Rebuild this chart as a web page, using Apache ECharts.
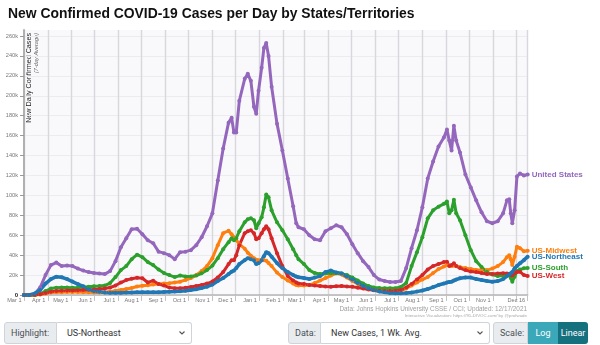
<!DOCTYPE html>
<html>
<head>
<meta charset="utf-8">
<script src="https://cdn.jsdelivr.net/npm/echarts@6/dist/echarts.min.js"></script>
<style>
  html, body { margin: 0; padding: 0; background: #fff; }
  #wrap { position: relative; width: 600px; height: 345px; overflow: hidden; }
  #chart { position: absolute; left: 0; top: 0; width: 600px; height: 345px; }
  .ctl { position: absolute; top: 322px; height: 22px; box-sizing: border-box; display: flex;
         font-family: Roboto, "Liberation Sans", Arial, sans-serif; font-size: 9px; color: #495057; }
  .lab { background: #e9ecef; border: 1px solid #ced4da; border-radius: 3px 0 0 3px;
         display: flex; align-items: center; padding: 0 6px; box-sizing: border-box; }
  .sel { background: #fff; border: 1px solid #ced4da; border-left: none; border-radius: 0 3px 3px 0;
         display: flex; align-items: center; justify-content: space-between; padding: 0 5px 0 10px; box-sizing: border-box; color: #333; }
  .btn { display: flex; align-items: center; justify-content: center; color: #fff; box-sizing: border-box; }
</style>
</head>
<body>
<div id="wrap">
  <div id="chart"></div>
  <div class="ctl" style="left:4px;">
    <div class="lab" style="width:53px;">Highlight:</div>
    <div class="sel" style="width:135px;"><span>US-Northeast</span>
      <svg width="8" height="8"><path d="M1.5 2.5 L4 5 L6.5 2.5" stroke="#555" fill="none" stroke-width="1.1"/></svg></div>
  </div>
  <div class="ctl" style="left:288px;">
    <div class="lab" style="width:33px;">Data:</div>
    <div class="sel" style="width:169px;"><span>New Cases, 1 Wk. Avg.</span>
      <svg width="8" height="8"><path d="M1.5 2.5 L4 5 L6.5 2.5" stroke="#555" fill="none" stroke-width="1.1"/></svg></div>
  </div>
  <div class="ctl" style="left:493px;">
    <div class="lab" style="width:35px;">Scale:</div>
    <div class="btn" style="width:30px;background:#3aa8b9;">Log</div>
    <div class="btn" style="width:30px;background:#16717f;border-radius:0 3px 3px 0;">Linear</div>
  </div>
</div>
<script>
// Sample dates (7-day average of new confirmed cases)
const dates = [
  '2020-03-01','2020-03-08','2020-03-15','2020-03-22','2020-03-29','2020-04-05','2020-04-12','2020-04-19','2020-04-26','2020-05-03',
  '2020-05-10','2020-05-17','2020-05-24','2020-05-31','2020-06-07','2020-06-14','2020-06-21','2020-06-28','2020-07-05','2020-07-12',
  '2020-07-19','2020-07-26','2020-08-02','2020-08-09','2020-08-16','2020-08-23','2020-08-30','2020-09-06','2020-09-13','2020-09-20',
  '2020-09-27','2020-10-04','2020-10-11','2020-10-18','2020-10-25','2020-11-01','2020-11-08','2020-11-15','2020-11-22','2020-11-26',
  '2020-11-29','2020-12-02','2020-12-06','2020-12-13','2020-12-17','2020-12-21','2020-12-25','2020-12-28','2020-12-31','2021-01-04',
  '2021-01-07','2021-01-10','2021-01-13','2021-01-17','2021-01-24','2021-01-31','2021-02-07','2021-02-14','2021-02-18','2021-02-21',
  '2021-02-28','2021-03-07','2021-03-14','2021-03-21','2021-03-28','2021-04-04','2021-04-11','2021-04-18','2021-04-25','2021-05-02',
  '2021-05-09','2021-05-16','2021-05-23','2021-05-30','2021-06-06','2021-06-13','2021-06-20','2021-06-27','2021-07-04','2021-07-11',
  '2021-07-18','2021-07-25','2021-08-01','2021-08-08','2021-08-15','2021-08-22','2021-08-29','2021-09-02','2021-09-05','2021-09-08',
  '2021-09-11','2021-09-14','2021-09-19','2021-09-26','2021-10-03','2021-10-10','2021-10-17','2021-10-24','2021-10-31','2021-11-07',
  '2021-11-14','2021-11-19','2021-11-22','2021-11-24','2021-11-26','2021-11-29','2021-12-02','2021-12-06','2021-12-11','2021-12-16'
];

const unitedStates = [
  0, 100, 1000, 7500, 20000, 30000, 32500, 29000, 29500, 29000,
  26500, 24500, 23000, 22000, 21500, 21000, 24000, 34000, 48000, 57000,
  66000, 66500, 61000, 55000, 52000, 43500, 42000, 40000, 36000, 43000,
  43500, 45000, 50000, 58000, 69000, 82000, 115000, 147000, 173000, 178000,
  163000, 163000, 195000, 217000, 222000, 215000, 189000, 182000, 205000, 228000,
  248000, 253000, 240000, 209000, 172000, 145000, 117000, 89000, 72000, 68000,
  66000, 60000, 56000, 55000, 64000, 67000, 70000, 68000, 61000, 51000,
  42000, 34000, 28000, 20000, 15500, 14000, 13000, 13000, 14000, 27000,
  47000, 65000, 88000, 117000, 134000, 149000, 158000, 166000, 155000, 145000,
  170000, 155000, 143000, 121000, 108000, 95000, 83000, 74000, 72000, 74000,
  82000, 95000, 96000, 82000, 72000, 85000, 119000, 122000, 120000, 121000
];

const usMidwest = [
  0, 0, 50, 500, 1500, 2500, 2800, 2800, 3000, 3000,
  3000, 2800, 2700, 2600, 2500, 2800, 3400, 4200, 5000, 6000,
  7000, 8500, 9200, 9800, 10500, 11000, 11500, 11700, 12500, 13400,
  15000, 17000, 20000, 24000, 29000, 37000, 50000, 62000, 64500, 61000,
  58000, 55000, 51000, 46500, 42500, 39500, 37000, 35500, 35000, 35000,
  35000, 34500, 32000, 29000, 22500, 18000, 14500, 11500, 10000, 9500,
  9500, 10000, 12000, 14500, 17000, 19500, 21800, 20500, 17500, 14000,
  11000, 8500, 7000, 5500, 4500, 4300, 4200, 4300, 4600, 6500,
  9500, 12500, 15500, 18000, 22000, 26000, 28500, 30000, 29500, 29000,
  29500, 29000, 28000, 27000, 26000, 25000, 25000, 25000, 26500, 29000,
  33000, 38000, 40000, 36000, 30000, 38500, 48500, 47000, 44000, 44500
];

const usSouth = [
  0, 0, 100, 1000, 4000, 6500, 7400, 7600, 7500, 7400,
  7400, 7800, 8400, 8800, 9000, 9500, 12000, 18000, 25000, 29000,
  36000, 40500, 38000, 33000, 30000, 25500, 22000, 20000, 18000, 19500,
  18500, 18500, 19500, 21800, 25000, 29500, 37000, 46000, 53000, 57000,
  55000, 57000, 64000, 73000, 76000, 77000, 75000, 67000, 72000, 78000,
  88000, 101000, 98000, 85000, 73000, 65000, 56000, 46000, 40000, 36000,
  31000, 25000, 22000, 21000, 21500, 21800, 21800, 21500, 20000, 17500,
  14500, 11500, 9000, 7500, 7000, 6700, 6700, 6800, 8000, 12000,
  29000, 43000, 58000, 77000, 85000, 88700, 91500, 93800, 82000, 85000,
  95500, 82000, 75000, 60000, 45000, 34000, 28000, 23000, 20500, 19000,
  19500, 20000, 20000, 17000, 13400, 18400, 24000, 25500, 26800, 27000
];

const usWest = [
  0, 0, 200, 800, 2000, 3200, 4000, 4300, 4400, 4600,
  4800, 5000, 5300, 5600, 6000, 6600, 7500, 9500, 12500, 15000,
  16300, 17400, 16800, 12600, 14400, 11000, 9600, 7500, 6700, 6700,
  7200, 8000, 9000, 10000, 11500, 13500, 17500, 23000, 31000, 35000,
  35000, 40000, 50000, 62000, 64000, 65000, 62000, 56000, 57000, 62000,
  66000, 69000, 66000, 57000, 42000, 29000, 19000, 14500, 12500, 11500,
  11000, 10000, 9500, 9000, 8500, 8400, 8800, 9000, 8500, 8200,
  7400, 6500, 5400, 4800, 4200, 4000, 4000, 4200, 5000, 7500,
  11000, 15500, 20000, 25500, 29000, 31000, 33000, 33500, 29000, 30000,
  31800, 29000, 27000, 25000, 23500, 23000, 22000, 21000, 21000, 21500,
  21800, 21500, 21000, 20000, 19500, 21800, 23000, 23400, 20000, 19000
];

const usNortheast = [
  0, 100, 1500, 5000, 11500, 16000, 18400, 17800, 16000, 13500,
  11000, 8700, 5600, 3800, 3200, 2500, 2300, 2300, 2300, 2400,
  2600, 2700, 2700, 2700, 2700, 2800, 3000, 3200, 3400, 3700,
  4200, 5000, 5700, 7000, 8400, 10500, 14000, 17000, 21000, 23400,
  24500, 27000, 31000, 35000, 37000, 36000, 35000, 31000, 32000, 35000,
  39000, 43000, 42000, 38500, 32000, 27000, 23000, 20000, 18500, 17800,
  17000, 16000, 17500, 19000, 23000, 24500, 22500, 21500, 18500, 15500,
  12000, 9000, 6800, 5000, 3600, 2700, 2000, 1700, 1700, 2000,
  2500, 3400, 4500, 6000, 8000, 10000, 11500, 12500, 13000, 13400,
  14500, 15500, 16800, 17500, 17500, 16000, 15000, 14000, 13400, 14000,
  16000, 19000, 20500, 21800, 23000, 26800, 29000, 31800, 35000, 38500
];

// Month-start ticks, the last one being the update date
const tickDates = [
  '2020-03-01','2020-04-01','2020-05-01','2020-06-01','2020-07-01','2020-08-01','2020-09-01','2020-10-01','2020-11-01','2020-12-01',
  '2021-01-01','2021-02-01','2021-03-01','2021-04-01','2021-05-01','2021-06-01','2021-07-01','2021-08-01','2021-09-01','2021-10-01',
  '2021-11-01','2021-12-01','2021-12-16'
];
const labelDates = tickDates.filter(d => d !== '2021-12-01');

const yTicks = [0, 20000, 40000, 60000, 80000, 100000, 120000, 140000, 160000, 180000, 200000, 220000, 240000, 260000];

const seriesDefs = [
  { name: 'United States', values: unitedStates, color: '#9467bd', width: 3 },
  { name: 'US-Midwest',    values: usMidwest,    color: '#ff7f0e', width: 3 },
  { name: 'US-South',      values: usSouth,      color: '#2ca02c', width: 3 },
  { name: 'US-West',       values: usWest,       color: '#d62728', width: 3 },
  { name: 'US-Northeast',  values: usNortheast,  color: '#1f77b4', width: 3.5 }
];

const MONTHS = ['Jan','Feb','Mar','Apr','May','Jun','Jul','Aug','Sep','Oct','Nov','Dec'];
function ts(s) {
  const p = s.split('-').map(Number);
  return new Date(p[0], p[1] - 1, p[2]).getTime();
}
const times = dates.map(ts);

const FONT = '"Liberation Sans", Arial, Helvetica, sans-serif';

const chart = echarts.init(document.getElementById('chart'), null, { renderer: 'canvas' });

chart.setOption({
  animation: false,
  backgroundColor: '#ffffff',
  title: {
    text: 'New Confirmed COVID-19 Cases per Day by States/Territories',
    left: 3, top: 2,
    textStyle: { fontFamily: FONT, fontSize: 13.9, fontWeight: 'bold', color: '#111' }
  },
  grid: {
    left: 24, right: 72.3, top: 30, bottom: 50,
    show: true, backgroundColor: '#f9f9fc', borderWidth: 0
  },
  // Time runs along a numeric axis holding millisecond timestamps
  xAxis: {
    type: 'value',
    min: ts('2020-03-01'),
    max: ts('2021-12-16'),
    axisLine: { show: true, lineStyle: { color: '#b5b5b5', width: 1.5 } },
    axisTick: { show: true, customValues: tickDates.map(ts), length: 6, lineStyle: { color: '#c4c4c4', width: 1 } },
    axisLabel: {
      customValues: labelDates.map(ts),
      formatter: v => { const d = new Date(v); return MONTHS[d.getMonth()] + ' ' + d.getDate(); },
      align: 'right', margin: 2, padding: [0, 2.5, 0, 0],
      fontFamily: FONT, fontSize: 5.6, color: '#777'
    },
    splitLine: { show: true, lineStyle: { color: '#d8d8dc', width: 1.4 } }
  },
  yAxis: {
    type: 'value',
    min: 0, max: 266000, interval: 20000,
    axisLine: { show: true, lineStyle: { color: '#b0b0b0', width: 2 } },
    axisTick: { show: true, customValues: yTicks, length: 4, lineStyle: { color: '#999' } },
    axisLabel: {
      customValues: yTicks,
      margin: 6, fontFamily: FONT, fontSize: 5.6, color: '#777',
      formatter: v => v === 0 ? '{z|0}' : (v / 1000) + 'k',
      rich: { z: { fontFamily: FONT, fontSize: 6, fontWeight: 'bold', color: '#222' } }
    },
    splitLine: { show: true, lineStyle: { color: '#ebebf0', width: 1 } }
  },
  graphic: [
    {
      type: 'text', x: 29.5, y: 33, rotation: Math.PI / 2, silent: true,
      style: { text: 'New Daily Confirmed Cases', fontFamily: FONT, fontSize: 7.2, fill: '#222',
               align: 'right', verticalAlign: 'middle' }
    },
    {
      type: 'text', x: 36, y: 33, rotation: Math.PI / 2, silent: true,
      style: { text: '(7-day Average)', fontFamily: FONT, fontSize: 5.6, fontStyle: 'italic', fill: '#666',
               align: 'right', verticalAlign: 'middle' }
    },
    {
      type: 'text', x: 527, y: 309, silent: true,
      style: { text: 'Data: Johns Hopkins University CSSE / CCI; Updated: 12/17/2021', fontFamily: FONT,
               fontSize: 6.4, fill: '#a0a0a0', align: 'right', verticalAlign: 'middle' }
    },
    {
      type: 'text', x: 527, y: 316, silent: true,
      style: { text: 'Interactive Visualization: https://91-DIVOC.com/ by @profwade', fontFamily: FONT,
               fontSize: 4.4, fill: '#aaaaaa', align: 'right', verticalAlign: 'middle' }
    }
  ],
  series: seriesDefs.map(s => ({
    type: 'line',
    name: s.name,
    data: s.values.map((v, i) => [times[i], v]),
    symbol: 'circle',
    symbolSize: 4,
    showSymbol: true,
    clip: false,
    lineStyle: { color: s.color, width: s.width },
    itemStyle: { color: s.color },
    emphasis: { disabled: true },
    endLabel: {
      show: true, formatter: '{a}', distance: 4,
      fontFamily: FONT, fontSize: 8, fontWeight: 'bold', color: s.color
    }
  }))
});
</script>
</body>
</html>
